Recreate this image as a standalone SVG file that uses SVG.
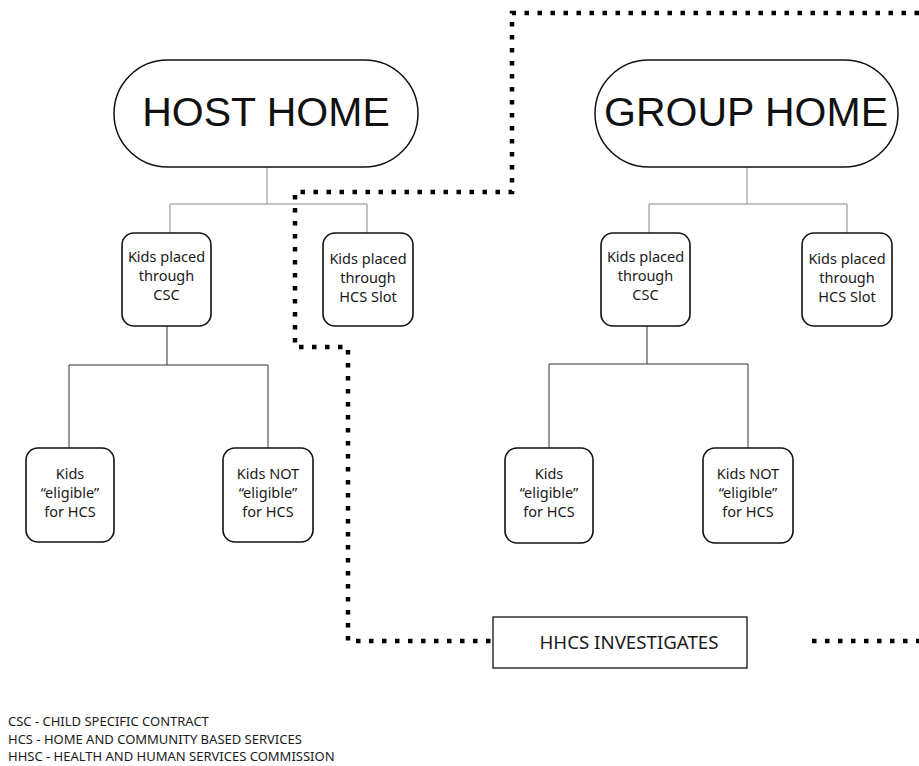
<svg xmlns="http://www.w3.org/2000/svg" width="919" height="766" viewBox="0 0 919 766">
<style>
.pill{fill:#fff;stroke:#111;stroke-width:1.5}
.box{fill:#fff;stroke:#111;stroke-width:1.6}
.conn{fill:none;stroke:#8a8a8a;stroke-width:1}
.conn2{fill:none;stroke:#333;stroke-width:1}
.dot{fill:none;stroke:#000;stroke-width:4.5;stroke-dasharray:4.5 8.5}
.big{font-family:"Liberation Sans",Arial,sans-serif;font-size:41px;fill:#111;text-anchor:middle}
.lbl{font-family:"Noto Sans","Open Sans",sans-serif;font-size:14.5px;fill:#1a1a1a;text-anchor:middle}
.leg{font-family:"Noto Sans","Open Sans",sans-serif;font-size:13px;fill:#1a1a1a}
</style>
<rect width="919" height="766" fill="#fff"/>
<g id="connectors">
<path class="conn" d="M267 167 V204 M170 204 H367 M170 204 V233 M367 204 V233"/>
<path class="conn" d="M747 167 V204 M649 204 H847 M649 204 V233 M847 204 V233"/>
<path class="conn2" d="M167 326 V365 M69 365 H268 M69 365 V448 M268 365 V448"/>
<path class="conn2" d="M647 326 V364 M549 364 H748 M549 364 V448 M748 364 V448"/>
<path class="dot" d="M919 13 H512 V192 H295 V347 H348 V641 H505"/>
<path class="dot" d="M812 641 H919"/>
</g>
<g id="host-home">
<rect class="pill" x="114" y="60" width="304" height="107" rx="53.5"/>
<text class="big" x="266" y="126">HOST HOME</text>
</g>
<g id="group-home">
<rect class="pill" x="595" y="60" width="303" height="107" rx="53.5"/>
<text class="big" x="746" y="126">GROUP HOME</text>
</g>
<g id="host-csc">
<rect class="box" x="122" y="233" width="89" height="93" rx="12"/>
<text class="lbl" x="166.5" y="262">Kids placed</text>
<text class="lbl" x="166.5" y="281">through</text>
<text class="lbl" x="166.5" y="300">CSC</text>
</g>
<g id="host-hcs">
<rect class="box" x="323" y="233" width="90" height="93" rx="12"/>
<text class="lbl" x="368" y="264">Kids placed</text>
<text class="lbl" x="368" y="283">through</text>
<text class="lbl" x="368" y="302">HCS Slot</text>
</g>
<g id="group-csc">
<rect class="box" x="601" y="233" width="89" height="93" rx="12"/>
<text class="lbl" x="645.5" y="262">Kids placed</text>
<text class="lbl" x="645.5" y="281">through</text>
<text class="lbl" x="645.5" y="300">CSC</text>
</g>
<g id="group-hcs">
<rect class="box" x="802" y="233" width="90" height="93" rx="12"/>
<text class="lbl" x="847" y="264">Kids placed</text>
<text class="lbl" x="847" y="283">through</text>
<text class="lbl" x="847" y="302">HCS Slot</text>
</g>
<g id="host-eligible">
<rect class="box" x="26" y="448" width="88" height="94" rx="12"/>
<text class="lbl" x="70" y="479">Kids</text>
<text class="lbl" x="70" y="498">“eligible”</text>
<text class="lbl" x="70" y="517">for HCS</text>
</g>
<g id="host-not-eligible">
<rect class="box" x="223" y="448" width="90" height="94" rx="12"/>
<text class="lbl" x="268" y="479">Kids NOT</text>
<text class="lbl" x="268" y="498">“eligible”</text>
<text class="lbl" x="268" y="517">for HCS</text>
</g>
<g id="group-eligible">
<rect class="box" x="505" y="448" width="88" height="95" rx="12"/>
<text class="lbl" x="549" y="479">Kids</text>
<text class="lbl" x="549" y="498">“eligible”</text>
<text class="lbl" x="549" y="517">for HCS</text>
</g>
<g id="group-not-eligible">
<rect class="box" x="703" y="448" width="90" height="95" rx="12"/>
<text class="lbl" x="748" y="479">Kids NOT</text>
<text class="lbl" x="748" y="498">“eligible”</text>
<text class="lbl" x="748" y="517">for HCS</text>
</g>
<g id="hhcs">
<rect x="493" y="617" width="254" height="51" fill="#fff" stroke="#111" stroke-width="1.3"/>
<text class="lbl" x="629" y="649" style="font-size:18.7px">HHCS INVESTIGATES</text>
</g>
<g id="legend">
<text class="leg" x="8" y="726">CSC - CHILD SPECIFIC CONTRACT</text>
<text class="leg" x="8" y="744">HCS - HOME AND COMMUNITY BASED SERVICES</text>
<text class="leg" x="8" y="761">HHSC - HEALTH AND HUMAN SERVICES COMMISSION</text>
</g>
</svg>
